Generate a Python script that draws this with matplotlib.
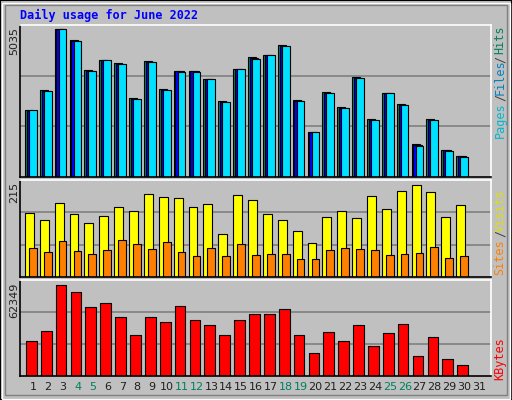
import matplotlib
matplotlib.use("Agg")
import matplotlib.pyplot as plt
from matplotlib.patches import Rectangle

days = list(range(1, 32))
hits = [2267, 2961, 5035, 4659, 3634, 3975, 3884, 2677, 3941, 2984, 3611, 3611, 3326, 2574, 3668,
        4078, 4146, 4488, 2608, 1515, 2882, 2369, 3406, 1959, 2848, 2472, 1139, 1959, 934, 729]
files = [2250, 2930, 5030, 4640, 3615, 3970, 3860, 2660, 3920, 2965, 3590, 3590, 3326, 2555, 3668,
         4040, 4146, 4470, 2590, 1515, 2865, 2350, 3380, 1940, 2848, 2455, 1100, 1940, 915, 710]
pages = [2267, 2915, 5035, 4625, 3600, 3975, 3839, 2643, 3907, 2950, 3565, 3565, 3326, 2540, 3668,
         4010, 4146, 4454, 2574, 1515, 2848, 2335, 3360, 1925, 2848, 2438, 1070, 1925, 900, 695]
visits = [150, 133, 173, 147, 126, 143, 164, 154, 194, 187, 185, 164, 171, 101, 192,
          180, 147, 133, 108, 80, 140, 154, 138, 189, 159, 201, 215, 199, 140, 168]
sites = [68, 59, 85, 61, 54, 64, 87, 78, 66, 82, 59, 50, 68, 50, 78,
         52, 54, 54, 43, 43, 64, 68, 66, 64, 52, 54, 57, 71, 45, 50]
kbytes = [24125, 30950, 62349, 57580, 47340, 50070, 40510, 28220, 40510, 37100, 48020, 38460, 35050,
          28220, 38460, 42560, 42560, 45970, 28220, 15930, 30270, 24125, 35050, 20710, 29590, 35730,
          13880, 26860, 11830, 7740]
weekend = [4, 5, 11, 12, 18, 19, 25, 26]
title = "Daily usage for June 2022"

W, H = 512, 400
fig = plt.figure(figsize=(5.12, 4.0), dpi=100, facecolor="#c0c0c0")
fig.patches.append(Rectangle((0, 0), 1, 1, transform=fig.transFigure, fill=False, ec="black", lw=1.5))
fig.patches.append(Rectangle((1.5/W, 1.5/H), 1-4/W, 1-4/H, transform=fig.transFigure, fill=False, ec="white", lw=1))
fig.patches.append(Rectangle((5/W, 5/H), 1-10/W, 1-10/H, transform=fig.transFigure, fill=False, ec="#808080", lw=1))

xl = (0.126, 31.80)
mono = "DejaVu Sans Mono"

def mkax(top, bottom, ymax):
    ax = fig.add_axes([20/W, 1-bottom/H, 471/W, (bottom-top)/H])
    ax.set_facecolor("#c0c0c0")
    ax.set_xlim(*xl)
    ax.set_ylim(0, ymax)
    for g in (ymax/3, 2*ymax/3):
        ax.axhline(g, color="#808080", lw=1.2, zorder=0)
    ax.set_xticks([]); ax.set_yticks([])
    for s in ax.spines.values():
        s.set_color("black"); s.set_linewidth(1.2)
    ax.spines["top"].set_color("white"); ax.spines["right"].set_color("white")
    return ax

n = len(hits)
x = days[:n]
ax1 = mkax(25, 177, 5171)
ax1.bar([d-0.54 for d in x], hits, width=0.54, align="edge", color="#008060", ec="black", lw=0.8)
ax1.bar([d-0.42 for d in x], files, width=0.55, align="edge", color="#0000ff", ec="black", lw=0.8)
ax1.bar([d-0.27 for d in x], pages, width=0.52, align="edge", color="#00e0ff", ec="black", lw=0.8)

ax2 = mkax(180, 277, 226)
ax2.bar([d-0.54 for d in x], visits, width=0.6, align="edge", color="#ffff00", ec="black", lw=0.8)
ax2.bar([d-0.27 for d in x], sites, width=0.52, align="edge", color="#ff8000", ec="black", lw=0.8)

ax3 = mkax(280, 376, 65560)
ax3.bar([d-0.47 for d in x], kbytes, width=0.72, align="edge", color="#ff0000", ec="black", lw=0.8)

def ftxt(px, py, s, **kw):
    fig.text(px/W, 1-py/H, s, **kw)

ftxt(20, 15, title, color="#0000ff", fontsize=8.5, fontweight="bold", family=mono, va="center", ha="left")
ftxt(14, 27, str(max(hits)), rotation=90, fontsize=8, va="top", ha="center", color="#202020")
ftxt(14, 182, str(max(visits)), rotation=90, fontsize=8, va="top", ha="center", color="#202020")
ftxt(14, 283, str(max(kbytes)), rotation=90, fontsize=8, va="top", ha="center", color="#202020")

rk = dict(rotation=90, fontsize=8.5, family=mono, ha="center", va="center")
ftxt(500, 40, "Hits", color="#008060", **rk)
ftxt(500, 59, "/", color="#404040", **rk)
ftxt(500, 77, "Files", color="#0080c0", **rk)
ftxt(500, 97, "/", color="#404040", **rk)
ftxt(500, 120, "Pages", color="#00b8d0", **rk)
ftxt(500, 211, "Visits", color="#e0e000", **rk)
ftxt(500, 233, "/", color="#404040", **rk)
ftxt(500, 257, "Sites", color="#ff8000", **rk)
ftxt(500, 359, "KBytes", color="#ff0000", **rk)

for d in days:
    px = 33 + 14.87*(d-1)
    ftxt(px, 387, str(d), fontsize=8, ha="center", va="center",
         color="#008060" if d in weekend else "#202020")

fig.savefig("out.png", dpi=100, facecolor=fig.get_facecolor())
